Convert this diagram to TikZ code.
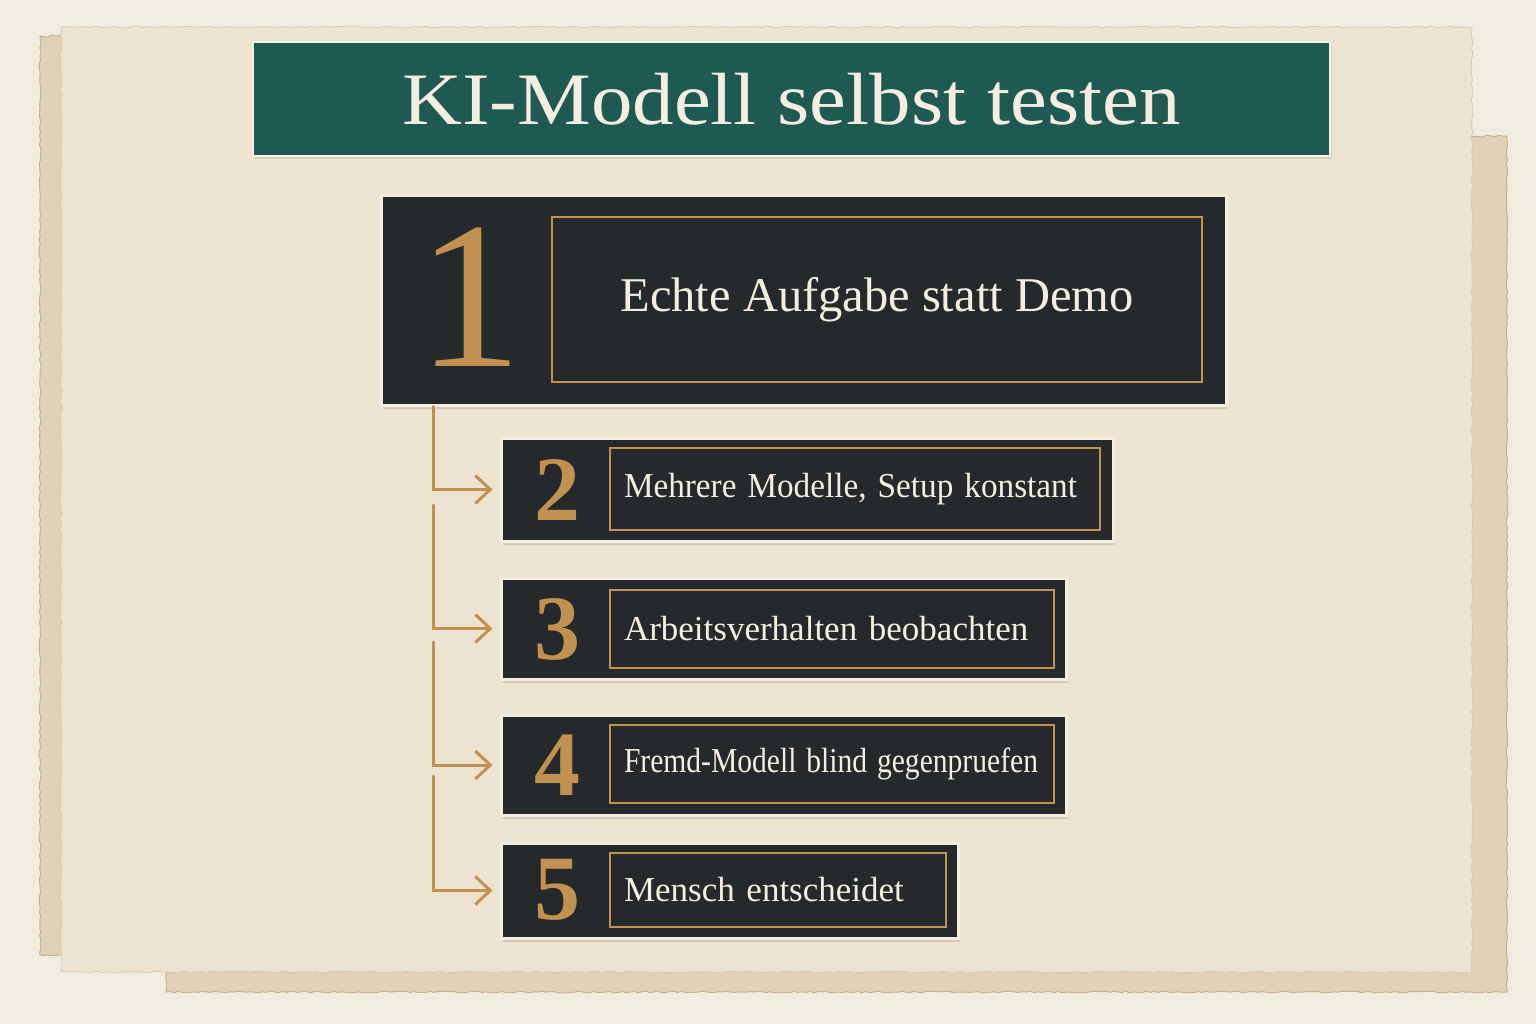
\documentclass[tikz,border=0pt]{standalone}
\usepackage{fontspec}
\setmainfont{Liberation Serif}
\usetikzlibrary{positioning, arrows.meta, shadows, decorations.pathmorphing}

\definecolor{bgcream}{HTML}{F1ECE0}
\definecolor{paper}{HTML}{ECE3D1}
\definecolor{paperback}{HTML}{DFD2B9}
\definecolor{paperedge}{HTML}{C3B391}
\definecolor{teal}{HTML}{1F5A52}
\definecolor{slate}{HTML}{25292B}
\definecolor{gold}{HTML}{C09150}
\definecolor{chalk}{HTML}{F4EEE2}

\tikzset{
  torn/.style = {decorate, decoration={random steps, segment length=4pt, amplitude=0.9pt}},
  sheet/.style = {torn, draw=paperedge, line width=1pt, fill=paperback},
  card/.style = {draw=chalk, line width=3pt, fill=slate, inner sep=0pt,
                 drop shadow={shadow xshift=2pt, shadow yshift=-4pt, opacity=0.25}},
  frame/.style = {draw=gold, line width=1.4pt, inner xsep=14pt, inner ysep=0pt,
                  text=chalk},
  numeral/.style = {text=gold, inner sep=0pt},
  link/.style = {draw=gold, line width=3pt, line cap=round,
                 -{Straight Barb[length=15pt, width=28pt, line width=3pt]}}
}

\begin{document}
\begin{tikzpicture}[x=1pt, y=-1pt]
    \useasboundingbox[fill=bgcream] (0,0) rectangle (1536,1024);

    % paper sheets
    \draw[sheet] (40,36) rectangle (1400,955);
    \draw[sheet] (166,136) rectangle (1507,992);
    \draw[torn, draw=paperedge!70, line width=0.8pt, fill=paper] (61,27) rectangle (1472,972);

    % title
    \node[draw=chalk!80, line width=1.5pt, fill=teal, minimum width=1077pt,
          minimum height=114pt, text=chalk, font=\fontsize{74}{80}\selectfont,
          drop shadow={shadow xshift=2pt, shadow yshift=-3pt, opacity=0.2}]
          (title) at (791.5,99) {\resizebox{778pt}{\height}{KI-Modell selbst testen}};

    % cards
    \node[card, minimum width=845pt, minimum height=209pt] (step1) at (803.5,300.5) {};
    \node[card, minimum width=612pt, minimum height=103pt] (step2) at (807,489.5) {};
    \node[card, minimum width=565pt, minimum height=101pt] (step3) at (783.5,628.5) {};
    \node[card, minimum width=565pt, minimum height=100pt] (step4) at (783.5,765) {};
    \node[card, minimum width=457pt, minimum height=95pt] (step5) at (729.5,890.5) {};

    % frames with texts
    \node[frame, minimum width=650pt, minimum height=165pt, font=\fontsize{48.5}{54}\selectfont]
          (text1) at (877,299.5) {Echte Aufgabe statt Demo\hspace{36pt}};
    \node[frame, text width=462pt, minimum height=82pt, align=left, font=\fontsize{35}{40}\selectfont]
          (text2) at (855,489) {\resizebox{453pt}{\height}{Mehrere Modelle, Setup konstant}};
    \node[frame, text width=416pt, minimum height=78pt, align=left, font=\fontsize{35}{40}\selectfont]
          (text3) at (832,629) {Arbeitsverhalten beobachten};
    \node[frame, text width=416pt, minimum height=78pt, align=left, font=\fontsize{35}{40}\selectfont]
          (text4) at (832,764) {\resizebox{414pt}{\height}{Fremd-Modell blind gegenpruefen}};
    \node[frame, text width=308pt, minimum height=74pt, align=left, font=\fontsize{35}{40}\selectfont]
          (text5) at (778,890) {Mensch entscheidet};

    % numerals
    \node[numeral, font=\fontsize{210}{210}\selectfont] (num1) at (470,297) {1};
    \node[numeral, font=\fontsize{92}{92}\selectfont\bfseries] (num2) at (557,490) {2};
    \node[numeral, font=\fontsize{92}{92}\selectfont\bfseries] (num3) at (557,629) {3};
    \node[numeral, font=\fontsize{92}{92}\selectfont\bfseries] (num4) at (557,765) {4};
    \node[numeral, font=\fontsize{92}{92}\selectfont\bfseries] (num5) at (557,890) {5};

    % connectors
    \coordinate (rail) at (433,0);
    \coordinate (start2) at (433,505);
    \coordinate (start3) at (433,642);
    \coordinate (start4) at (433,776);
    \draw[link, shorten >=7pt] (rail |- step1.south) |- (step2.west);
    \draw[link, shorten >=7pt] (start2) |- (step3.west);
    \draw[link, shorten >=7pt] (start3) |- (step4.west);
    \draw[link, shorten >=7pt] (start4) |- (step5.west);
\end{tikzpicture}
\end{document}
